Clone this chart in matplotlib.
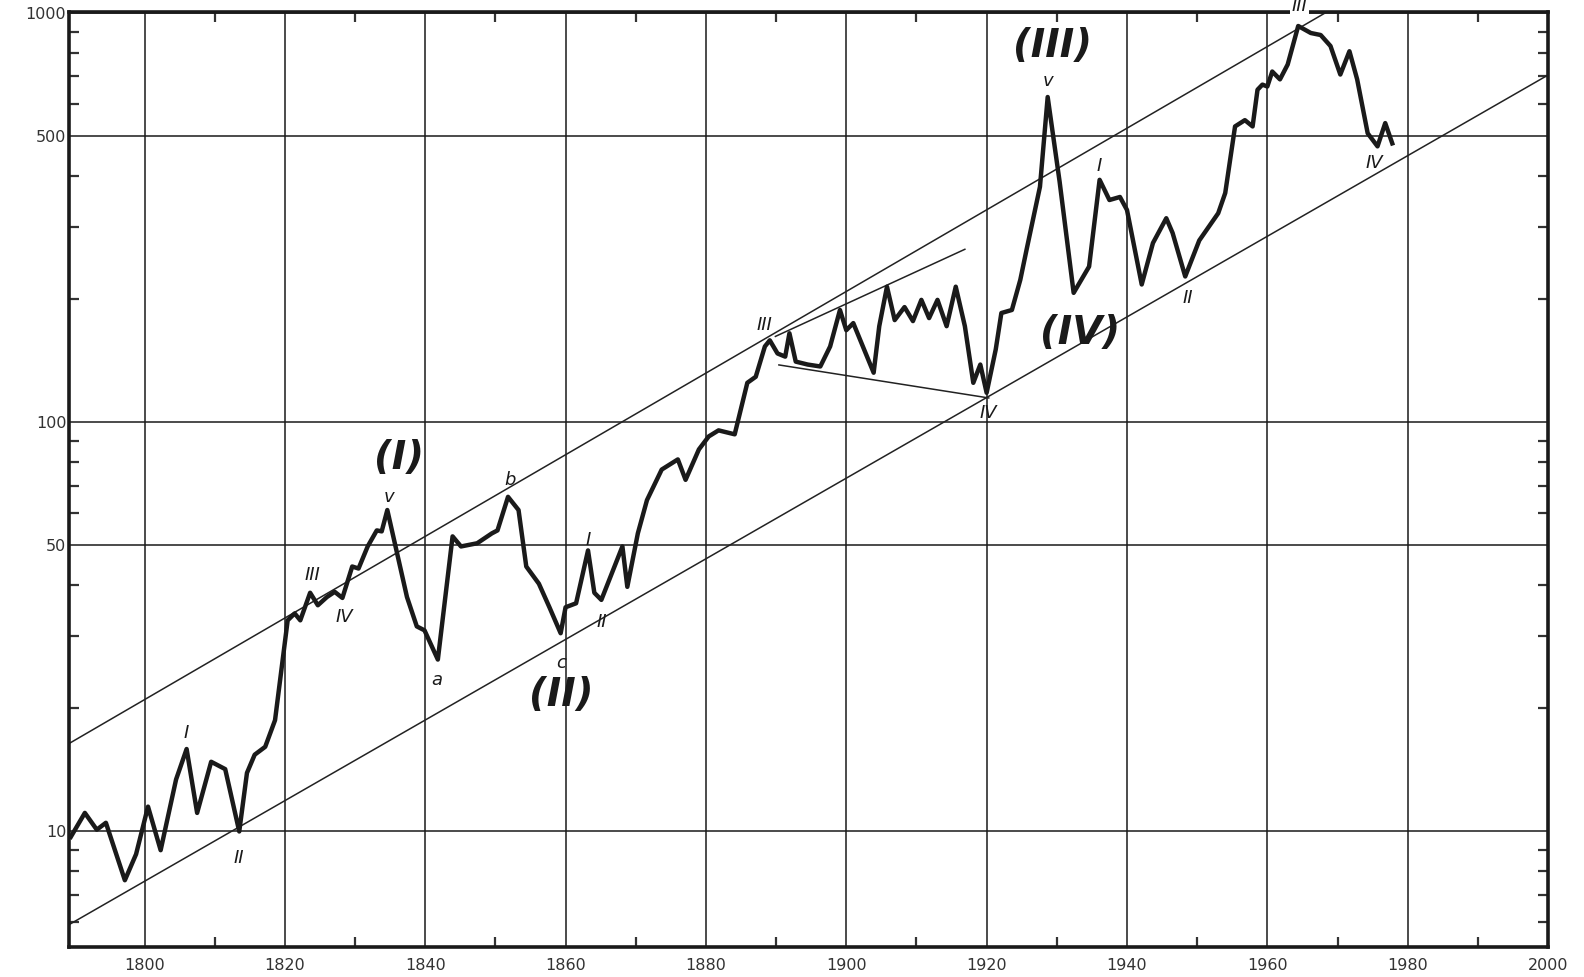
import matplotlib
matplotlib.use("Agg")
import matplotlib.pyplot as plt
from matplotlib.ticker import FixedLocator, NullFormatter

# index values (log scale)
years = [1789.5, 1791.5, 1793.2, 1794.5, 1797.2, 1798.8, 1800.5, 1802.3, 1804.5, 1806.0,
         1807.5, 1809.5, 1811.5, 1813.5, 1814.6, 1815.7, 1817.2, 1818.6, 1820.4, 1821.4,
         1822.2, 1823.6, 1824.7, 1826.0, 1827.1, 1828.2, 1829.6, 1830.5, 1831.8, 1833.1,
         1833.8, 1834.6, 1836.0, 1837.4, 1838.8, 1839.9, 1841.8, 1843.9, 1845.1, 1847.4,
         1849.5, 1850.3, 1851.8, 1853.3, 1854.4, 1856.2, 1857.7, 1859.3, 1860.0, 1861.5,
         1863.2, 1864.1, 1865.1, 1868.1, 1868.8, 1870.3, 1871.6, 1873.7, 1876.0, 1877.1,
         1879.0, 1880.4, 1881.8, 1884.1, 1885.9, 1887.1, 1888.4, 1889.1, 1890.2, 1891.3,
         1891.9, 1892.8, 1894.5, 1896.3, 1897.7, 1899.1, 1900.0, 1901.0, 1903.9, 1904.7,
         1905.8, 1906.9, 1908.3, 1909.5, 1910.7, 1911.8, 1913.0, 1914.3, 1915.6, 1916.9,
         1918.1, 1919.1, 1920.0, 1921.3, 1922.1, 1923.6, 1924.8, 1925.7, 1927.6, 1928.7,
         1930.4, 1932.4, 1934.6, 1936.1, 1937.5, 1939.0, 1940.0, 1942.1, 1943.7, 1945.6,
         1946.5, 1948.3, 1950.3, 1953.0, 1954.0, 1955.4, 1956.8, 1957.9, 1958.6, 1959.3,
         1960.0, 1960.7, 1961.8, 1962.9, 1964.4, 1966.2, 1967.6, 1969.0, 1970.4, 1971.7,
         1972.8, 1974.3, 1975.7, 1976.8, 1977.8]
values = [9.7, 11.1, 10.1, 10.5, 7.6, 8.8, 11.5, 9.0, 13.4, 15.9,
          11.1, 14.8, 14.2, 10.0, 13.9, 15.4, 16.1, 18.7, 32.8, 34.1,
          32.8, 38.3, 35.7, 37.4, 38.5, 37.2, 44.4, 43.9, 49.7, 54.4,
          54.1, 61.0, 47.7, 37.4, 31.7, 31.0, 26.3, 52.6, 49.7, 50.6,
          53.5, 54.4, 65.7, 61.0, 44.4, 40.3, 35.3, 30.5, 35.3, 36.1,
          48.6, 38.3, 36.8, 49.7, 39.6, 53.5, 64.5, 76.6, 81.1, 72.3,
          85.8, 92.3, 95.5, 93.4, 124.8, 129.1, 153.1, 158.5, 147.2, 144.6,
          164.9, 140.6, 138.3, 136.8, 153.1, 188.0, 167.8, 174.6, 132.1, 171.6,
          214.3, 177.6, 191.1, 176.6, 199.0, 179.6, 199.0, 171.6, 214.3, 171.6,
          124.8, 138.3, 118.0, 150.6, 184.8, 188.0, 222.8, 264.3, 376.0, 623.0,
          387.0, 207.0, 240.0, 391.0, 349.0, 355.0, 330.0, 217.0, 274.0, 315.0,
          290.0, 227.0, 278.0, 324.0, 363.0, 528.0, 547.0, 528.0, 649.0, 668.0,
          661.0, 719.0, 688.0, 748.0, 929.0, 893.0, 883.0, 830.0, 707.0, 806.0,
          688.0, 508.0, 472.0, 538.0, 480.0]

# trend lines (start/end points)
upper_x = [1789.25, 1972.0]
upper_y = [16.4, 1090.0]
lower_x = [1789.25, 2000.0]
lower_y = [5.92, 705.0]
top_x = [1889.9, 1916.9]
top_y = [162.0, 264.5]
base_x = [1890.4, 1920.3]
base_y = [138.0, 114.6]

# wave labels: text, year, value, big
labels = [
    ("I", 1806.0, 17.4, False), ("II", 1813.4, 8.6, False),
    ("III", 1823.9, 42.4, False), ("IV", 1828.5, 33.4, False),
    ("(I)", 1836.3, 81.7, True), ("v", 1834.9, 65.7, False),
    ("a", 1841.6, 23.5, False), ("b", 1852.1, 72.3, False),
    ("c", 1859.3, 25.8, False), ("(II)", 1859.4, 21.5, True),
    ("I", 1863.2, 51.5, False), ("II", 1865.1, 32.5, False),
    ("III", 1888.4, 172.8, False), ("IV", 1920.3, 105.2, False),
    ("(III)", 1929.4, 828.0, True), ("v", 1928.7, 680.0, False),
    ("(IV)", 1933.3, 165.0, True), ("I", 1936.0, 422.0, False),
    ("II", 1948.6, 201.0, False), ("III", 1964.6, 1037.0, False),
    ("IV", 1975.3, 430.0, False),
]

ytick_vals = [10, 50, 100, 500, 1000]
ytick_text = ["10", "50", "100", "500", "1000"]
xtick_vals = [1800, 1820, 1840, 1860, 1880, 1900, 1920, 1940, 1960, 1980, 2000]

fig = plt.figure(figsize=(15.84, 9.77), dpi=100)
ax = fig.add_axes([0.0436, 0.0307, 0.9337, 0.957])

ax.set_yscale("log")
ax.set_xlim(1789.25, 2000)
ax.set_ylim(5.22, 1005)

ax.plot(years, values, color="#1a1a1a", lw=3.2, solid_joinstyle="round", zorder=3)
ax.plot(upper_x, upper_y, color="#222222", lw=1.1, zorder=2)
ax.plot(lower_x, lower_y, color="#222222", lw=1.1, zorder=2)
ax.plot(top_x, top_y, color="#222222", lw=1.1, zorder=2)
ax.plot(base_x, base_y, color="#222222", lw=1.1, zorder=2)

for txt, x, y, big in labels:
    if big:
        ax.text(x, y, txt, fontsize=28, fontstyle="italic", fontweight="bold",
                ha="center", va="center", color="#1a1a1a", zorder=4)
    elif txt == "III" and y > 1000:
        ax.text(x, y, txt, fontsize=13, fontstyle="italic", ha="center", va="center",
                color="#1a1a1a", clip_on=False, zorder=5,
                bbox=dict(facecolor="white", edgecolor="none", pad=1))
    else:
        ax.text(x, y, txt, fontsize=13, fontstyle="italic", ha="center", va="center",
                color="#1a1a1a", zorder=4)

ax.yaxis.set_major_locator(FixedLocator(ytick_vals))
ax.set_yticklabels(ytick_text)
ax.yaxis.set_minor_formatter(NullFormatter())
ax.set_xticks(xtick_vals)
ax.set_xticks(list(range(1810, 2000, 20)), minor=True)

ax.grid(True, which="major", color="#1a1a1a", lw=1.1)
ax.tick_params(which="both", direction="in", top=True, right=True,
               labelsize=11.5, colors="#333333")
ax.tick_params(which="major", length=0)
ax.tick_params(which="minor", length=7, width=1.6)
ax.tick_params(axis="x", pad=8)
ax.tick_params(axis="y", pad=2)

for s in ax.spines.values():
    s.set_linewidth(2.6)
    s.set_color("#1a1a1a")

plt.savefig("out.png", dpi=100)
